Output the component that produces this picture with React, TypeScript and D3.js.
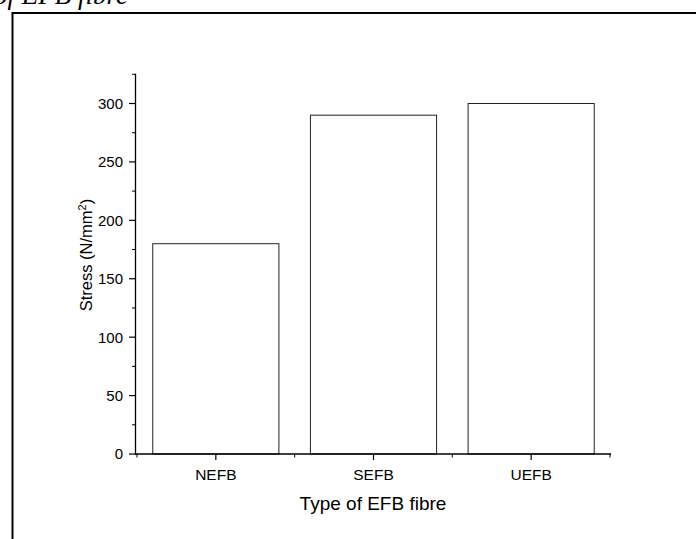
import React from "react";
import * as d3 from "d3";

const categories = ["NEFB", "SEFB", "UEFB"];
const stressValues = [180, 290, 300];
const yTicks = [0, 50, 100, 150, 200, 250, 300];
const yMinorTicks = [25, 75, 125, 175, 225, 275, 325];

export default function App() {
  const W = 696, H = 539;
  const x = d3.scaleBand<string>().domain(categories).range([137, 610]).paddingInner(0).paddingOuter(0);
  const y = d3.scaleLinear().domain([0, 300]).range([454, 103.5]);
  const barW = x.bandwidth() * 0.8;
  const font = "Arial, 'Liberation Sans', sans-serif";
  const y0 = y(0);
  return (
    <svg width={W} height={H} style={{ position: "absolute", left: 0, top: 0, background: "#fff" }}>
      <rect x={0} y={0} width={W} height={H} fill="#fff" />
      <text x={128} y={4} textAnchor="end" fontFamily="'Liberation Serif', 'Times New Roman', serif" fontStyle="italic" fontSize={27} fill="#000">of EFB fibre</text>
      <path d={`M12.5,${H + 5} V13 H${W + 5}`} fill="none" stroke="#000" strokeWidth={2} />
      {categories.map((c, i) => {
        const cx = x(c)! + x.bandwidth() / 2;
        return (
          <rect key={c} x={cx - barW / 2} y={y(stressValues[i])} width={barW} height={y0 - y(stressValues[i])}
            fill="#fff" stroke="#222" strokeWidth={1} />
        );
      })}
      {/* y axis */}
      <line x1={135.5} x2={135.5} y1={y(325) - 0.5} y2={y0 + 1} stroke="#000" strokeWidth={1.3} />
      {yTicks.map(t => (
        <g key={t}>
          <line x1={129} x2={135.5} y1={y(t)} y2={y(t)} stroke="#000" strokeWidth={1.2} />
          <text x={123} y={y(t)} dy="0.36em" textAnchor="end" fontFamily={font} fontSize={15} fill="#000">{t}</text>
        </g>
      ))}
      {yMinorTicks.map(t => (
        <line key={t} x1={132} x2={135.5} y1={y(t)} y2={y(t)} stroke="#000" strokeWidth={1} />
      ))}
      {/* x axis */}
      <line x1={135} x2={611} y1={y0} y2={y0} stroke="#000" strokeWidth={1.5} />
      {categories.map(c => {
        const cx = x(c)! + x.bandwidth() / 2;
        return (
          <g key={c}>
            <line x1={cx} x2={cx} y1={y0} y2={y0 + 6} stroke="#000" strokeWidth={1.2} />
            <text x={cx} y={y0 + 25.5} textAnchor="middle" fontFamily={font} fontSize={15.5} fill="#000">{c}</text>
          </g>
        );
      })}
      {categories.map(c => (
        <line key={"m" + c} x1={x(c)!} x2={x(c)!} y1={y0} y2={y0 + 3.5} stroke="#000" strokeWidth={1} />
      ))}
      <line x1={610} x2={610} y1={y0} y2={y0 + 3.5} stroke="#000" strokeWidth={1} />
      <text x={373} y={510} textAnchor="middle" fontFamily={font} fontSize={19} fill="#000">Type of EFB fibre</text>
      <text transform={`translate(92,255) rotate(-90)`} textAnchor="middle" fontFamily={font} fontSize={16.5} fill="#000">
        Stress (N/mm<tspan dy={-6} fontSize={11}>2</tspan><tspan dy={6}>)</tspan>
      </text>
    </svg>
  );
}
